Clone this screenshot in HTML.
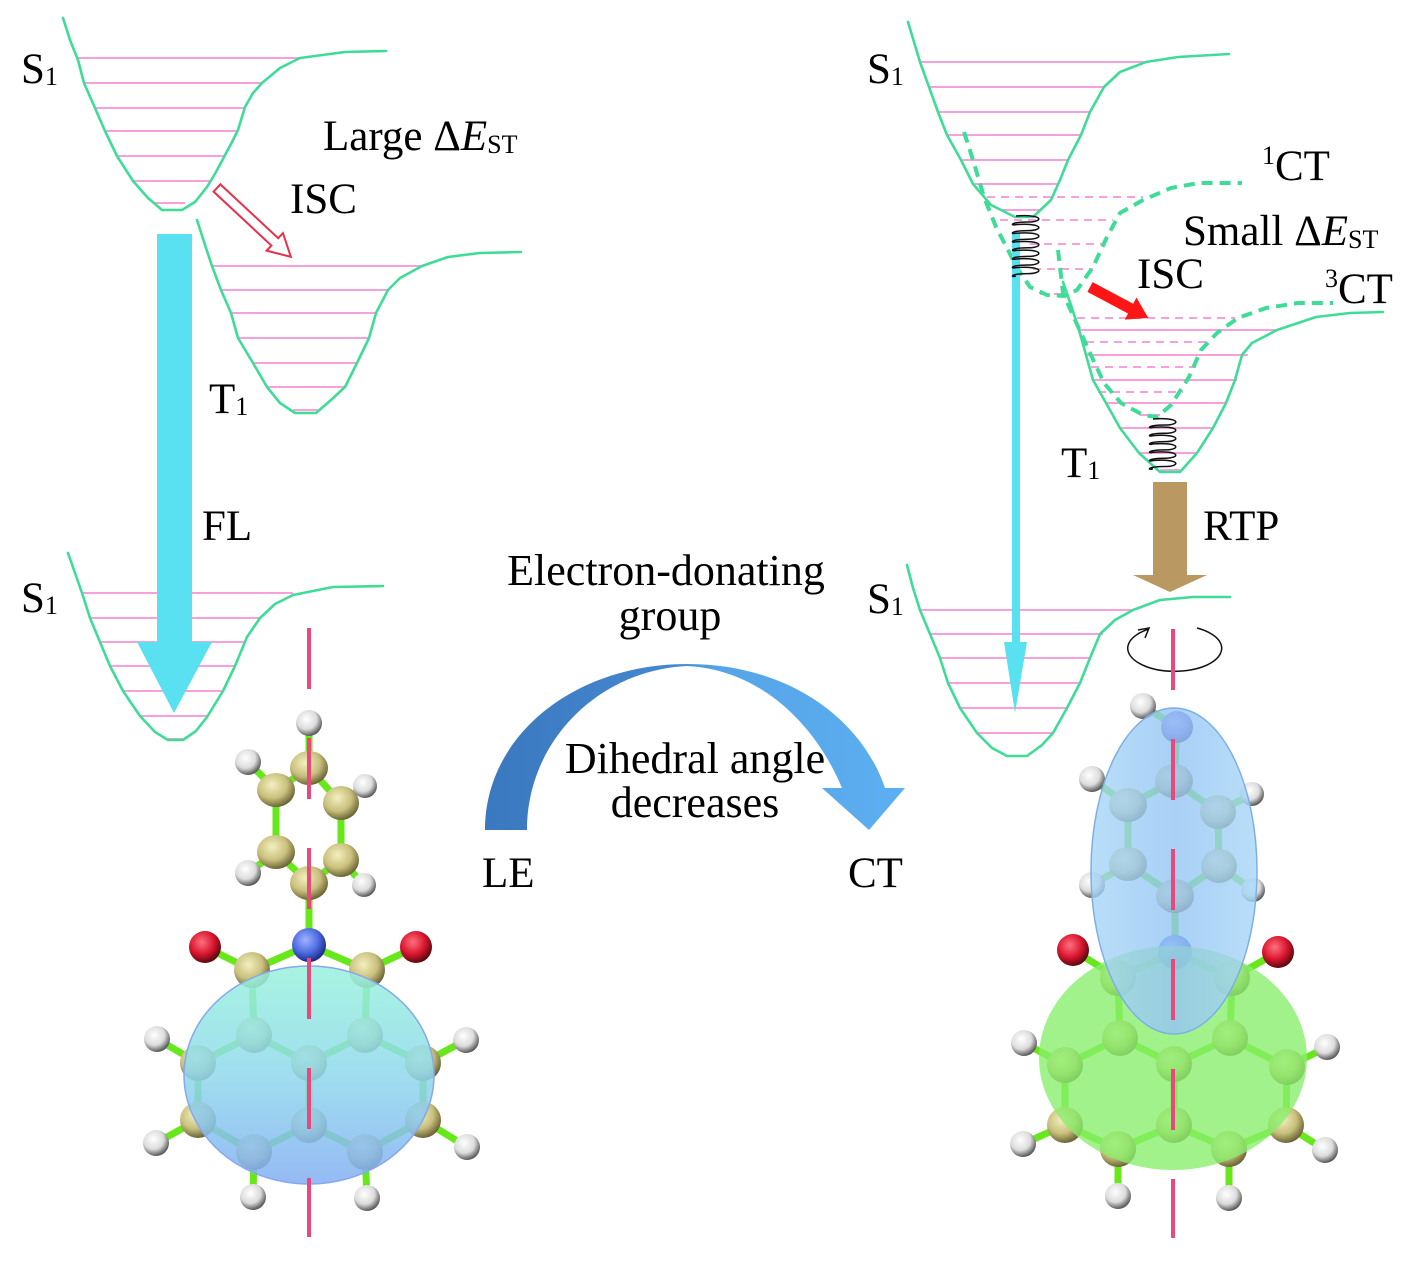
<!DOCTYPE html>
<html><head><meta charset="utf-8"><style>
html,body{margin:0;padding:0;background:#fff;}
svg{display:block;}
text{font-family:"Liberation Serif",serif;fill:#000;}
</style></head><body>
<svg width="1414" height="1264" viewBox="0 0 1414 1264" xmlns="http://www.w3.org/2000/svg">
<defs>
<radialGradient id="gC" cx="40%" cy="35%" r="65%"><stop offset="0" stop-color="#f4efc0"/><stop offset="0.6" stop-color="#c9c07c"/><stop offset="1" stop-color="#6e6638"/></radialGradient>
<radialGradient id="gH" cx="40%" cy="35%" r="65%"><stop offset="0" stop-color="#ffffff"/><stop offset="0.6" stop-color="#dcdcdc"/><stop offset="1" stop-color="#5a5a5a"/></radialGradient>
<radialGradient id="gO" cx="40%" cy="35%" r="65%"><stop offset="0" stop-color="#ff7080"/><stop offset="0.6" stop-color="#d8142c"/><stop offset="1" stop-color="#5a0a10"/></radialGradient>
<radialGradient id="gN" cx="40%" cy="35%" r="65%"><stop offset="0" stop-color="#a0b4ff"/><stop offset="0.6" stop-color="#4c6ae0"/><stop offset="1" stop-color="#1c2c88"/></radialGradient>
<radialGradient id="gNp" cx="40%" cy="35%" r="65%"><stop offset="0" stop-color="#b0a0f8"/><stop offset="0.6" stop-color="#7c68e4"/><stop offset="1" stop-color="#3a2c90"/></radialGradient>
<linearGradient id="gArc" x1="485" y1="0" x2="905" y2="0" gradientUnits="userSpaceOnUse"><stop offset="0" stop-color="#3a78bf"/><stop offset="0.45" stop-color="#4588cf"/><stop offset="0.55" stop-color="#55a4e8"/><stop offset="1" stop-color="#5caff0"/></linearGradient>
<linearGradient id="gEl" x1="0" y1="0" x2="0" y2="1"><stop offset="0" stop-color="#98f2dc"/><stop offset="0.5" stop-color="#8fd8ec"/><stop offset="1" stop-color="#82aef2"/></linearGradient>
<linearGradient id="gBl" x1="0" y1="0" x2="1" y2="0"><stop offset="0" stop-color="#a6d6f6"/><stop offset="0.5" stop-color="#94c4f4"/><stop offset="1" stop-color="#a6d6f6"/></linearGradient>
</defs>

<!-- ===== Top-left S1 ===== -->
<g stroke="#f7a0dc" stroke-width="2">
<line x1="77" y1="58" x2="300" y2="58"/><line x1="84" y1="83" x2="262" y2="83"/><line x1="95" y1="108" x2="245" y2="108"/><line x1="105" y1="131" x2="238" y2="131"/><line x1="117" y1="156" x2="224" y2="156"/><line x1="133" y1="181" x2="210" y2="181"/><line x1="155" y1="203" x2="185" y2="203"/>
<line x1="212" y1="266" x2="422" y2="266"/><line x1="221" y1="290" x2="388" y2="290"/><line x1="231" y1="313" x2="376" y2="313"/><line x1="238" y1="338" x2="369" y2="338"/><line x1="253" y1="363" x2="357" y2="363"/><line x1="267" y1="387" x2="345" y2="387"/><line x1="293" y1="410" x2="318" y2="410"/>
<line x1="82" y1="593" x2="293" y2="593"/><line x1="90" y1="618" x2="260" y2="618"/><line x1="100" y1="642" x2="244" y2="642"/><line x1="110" y1="666" x2="235" y2="666"/><line x1="123" y1="691" x2="223" y2="691"/><line x1="140" y1="716" x2="207" y2="716"/><line x1="168" y1="739" x2="183" y2="739"/>
</g>
<g fill="none" stroke="#3fdc98" stroke-width="2.6" stroke-linejoin="round" stroke-linecap="round">
<polyline points="63,18 70,40 78,60 84,83 95,108 105,131 117,156 133,181 148,198 162,210 182,210 195,202 207,187 216,172 224,157 232,142 238,130 245,107 253,93 262,83 280,68 300,58 345,52 386,51"/>
<polyline points="197,220 205,245 212,266 221,290 231,313 238,338 253,363 267,387 280,403 295,413 316,413 331,400 345,387 357,363 369,338 376,313 388,290 400,278 422,266 448,257 480,253 521,252"/>
<polyline points="68,553 75,573 82,593 90,618 100,642 110,666 123,691 140,716 155,732 168,740 183,740 196,731 207,717 223,691 235,666 247,637 260,618 275,604 293,595 333,587 383,586"/>
</g>

<!-- hollow ISC arrow -->
<polygon points="0,-5 79,-5 79,-12 101,0 79,12 79,5 0,5" transform="translate(217,188) rotate(43)" fill="#fff" stroke="#e8304a" stroke-width="2"/>

<!-- FL arrow -->
<polygon points="157,234 192,234 192,642 212,642 174,713 137,642 157,642" fill="#59e1f1"/>

<!-- ===== Top-right ===== -->
<g stroke="#f7a0dc" stroke-width="2">
<line x1="920" y1="62" x2="1146" y2="62"/><line x1="929" y1="87" x2="1104" y2="87"/><line x1="938" y1="112" x2="1090" y2="112"/><line x1="947" y1="135" x2="1081" y2="135"/><line x1="961" y1="160" x2="1068" y2="160"/><line x1="973" y1="184" x2="1057" y2="184"/><line x1="1000" y1="210" x2="1040" y2="210"/>
<line x1="1079" y1="330" x2="1277" y2="330"/><line x1="1086" y1="355" x2="1248" y2="355"/><line x1="1093" y1="380" x2="1237" y2="380"/><line x1="1106" y1="403" x2="1226" y2="403"/><line x1="1120" y1="428" x2="1213" y2="428"/><line x1="1139" y1="453" x2="1197" y2="453"/><line x1="1160" y1="470" x2="1180" y2="470"/>
<line x1="920" y1="610" x2="1133" y2="610"/><line x1="930" y1="634" x2="1103" y2="634"/><line x1="940" y1="658" x2="1090" y2="658"/><line x1="948" y1="683" x2="1080" y2="683"/><line x1="960" y1="708" x2="1067" y2="708"/><line x1="977" y1="733" x2="1053" y2="733"/><line x1="1007" y1="756" x2="1027" y2="756"/>
</g>
<g stroke="#f7a0dc" stroke-width="2" stroke-dasharray="8 6">
<line x1="987" y1="197" x2="1143" y2="197"/><line x1="1000" y1="220" x2="1113" y2="220"/><line x1="1030" y1="244" x2="1103" y2="244"/><line x1="1033" y1="269" x2="1093" y2="269"/><line x1="1040" y1="294" x2="1067" y2="294"/>
<line x1="1077" y1="318" x2="1235" y2="318"/><line x1="1086" y1="342" x2="1210" y2="342"/><line x1="1091" y1="367" x2="1196" y2="367"/><line x1="1098" y1="392" x2="1183" y2="392"/><line x1="1140" y1="415" x2="1160" y2="415"/>
</g>
<g fill="none" stroke="#3fdc98" stroke-width="2.6" stroke-linejoin="round" stroke-linecap="round">
<polyline points="908,22 914,42 920,62 929,87 938,112 947,135 961,160 973,184 991,205 1015,217 1033,217 1051,200 1060,180 1068,160 1081,135 1090,112 1104,87 1120,72 1146,62 1178,57 1229,54"/>
<polyline points="1063,282 1071,305 1079,330 1086,355 1093,380 1106,403 1120,428 1139,453 1160,472 1180,472 1197,453 1213,428 1226,403 1235,380 1242,355 1252,343 1277,330 1316,317 1350,313 1383,312"/>
<polyline points="907,565 913,588 920,610 930,634 940,658 948,683 960,708 977,733 992,748 1007,756 1027,756 1042,745 1053,733 1067,708 1080,683 1090,658 1100,634 1115,620 1133,610 1160,600 1193,597 1230,597"/>
</g>
<g fill="none" stroke="#3fdc98" stroke-width="4" stroke-dasharray="11 7" stroke-linejoin="round">
<polyline points="964,132 973,160 984,197 996,227 1007,248 1017,268 1030,287 1047,295 1065,296 1077,290 1093,267 1107,237 1120,213 1143,200 1171,188 1199,183 1242,183"/>
<polyline points="1058,250 1063,293 1075,320 1090,353 1104,383 1121,403 1143,415 1157,417 1171,405 1189,377 1201,350 1217,333 1238,318 1266,308 1298,303 1333,303"/>
</g>

<!-- thin blue arrow -->
<polygon points="1012,233 1020,233 1020,642 1027,642 1015,713 1004,642 1012,642" fill="#59e1f1"/>

<!-- springs -->
<path d="M1016,216 c28,-2 28,6 12,6 c-18,0 -18,4 -12,2.6 c28,-2 28,6 12,6 c-18,0 -18,4 -12,2.6 c28,-2 28,6 12,6 c-18,0 -18,4 -12,2.6 c28,-2 28,6 12,6 c-18,0 -18,4 -12,2.6 c28,-2 28,6 12,6 c-18,0 -18,4 -12,2.6 c28,-2 28,6 12,6 c-18,0 -18,4 -12,2.6 c28,-2 28,6 12,6 c-18,0 -18,4 -12,2.6" fill="none" stroke="#111" stroke-width="1.5"/>
<path d="M1153,419 c28,-2 28,6 12,6 c-18,0 -18,4 -12,2.3 c28,-2 28,6 12,6 c-18,0 -18,4 -12,2.3 c28,-2 28,6 12,6 c-18,0 -18,4 -12,2.3 c28,-2 28,6 12,6 c-18,0 -18,4 -12,2.3 c28,-2 28,6 12,6 c-18,0 -18,4 -12,2.3 c28,-2 28,6 12,6 c-18,0 -18,4 -12,2.3" fill="none" stroke="#111" stroke-width="1.5"/>

<!-- red ISC arrow -->
<polygon points="0,-5.5 46,-5.5 46,-12.5 66,0 46,12.5 46,5.5 0,5.5" transform="translate(1090,287) rotate(28)" fill="#ff1515"/>

<!-- RTP arrow -->
<polygon points="1153,482 1187,482 1187,575 1207,575 1170,592 1133,575 1153,575" fill="#b99862"/>

<!-- rotation arrow -->
<path d="M1197,628 A47,23 0 1 1 1149,629" fill="none" stroke="#111" stroke-width="1.5"/>
<polyline points="1138,630 1149,628 1145,638" fill="none" stroke="#111" stroke-width="1.5"/>

<!-- center curved arrow -->
<path d="M485,830 C485,735 575,664 687,664 C790,664 862,720 885,788 L905,788 L869,830 L822,788 L842,788 C818,730 765,670 687,666 C600,670 527,740 527,830 Z" fill="url(#gArc)"/>

<!-- ===== Left molecule ===== -->
<g stroke="#66e81a" stroke-width="7" stroke-linecap="round">
<line x1="309" y1="723" x2="309" y2="768"/><line x1="309" y1="768" x2="276" y2="790"/><line x1="309" y1="768" x2="341" y2="803"/><line x1="276" y1="790" x2="276" y2="852"/><line x1="341" y1="803" x2="341" y2="860"/><line x1="276" y1="852" x2="309" y2="883"/><line x1="341" y1="860" x2="309" y2="883"/><line x1="276" y1="790" x2="248" y2="762"/><line x1="341" y1="803" x2="365" y2="786"/><line x1="276" y1="852" x2="248" y2="873"/><line x1="341" y1="860" x2="364" y2="885"/><line x1="309" y1="883" x2="309" y2="945"/>
<line x1="309" y1="945" x2="252" y2="970"/><line x1="309" y1="945" x2="367" y2="970"/><line x1="252" y1="970" x2="205" y2="947"/><line x1="367" y1="970" x2="416" y2="947"/><line x1="252" y1="970" x2="254" y2="1035"/><line x1="367" y1="970" x2="365" y2="1035"/><line x1="254" y1="1035" x2="309" y2="1063"/><line x1="365" y1="1035" x2="309" y2="1063"/><line x1="254" y1="1035" x2="198" y2="1063"/><line x1="365" y1="1035" x2="423" y2="1063"/><line x1="198" y1="1063" x2="198" y2="1120"/><line x1="423" y1="1063" x2="423" y2="1120"/><line x1="198" y1="1120" x2="254" y2="1152"/><line x1="423" y1="1120" x2="365" y2="1152"/><line x1="254" y1="1152" x2="309" y2="1125"/><line x1="365" y1="1152" x2="309" y2="1125"/><line x1="309" y1="1063" x2="309" y2="1125"/>
<line x1="198" y1="1063" x2="157" y2="1039"/><line x1="423" y1="1063" x2="466" y2="1040"/><line x1="198" y1="1120" x2="156" y2="1143"/><line x1="423" y1="1120" x2="467" y2="1147"/><line x1="254" y1="1152" x2="253" y2="1197"/><line x1="365" y1="1152" x2="367" y2="1198"/>
</g>
<g fill="url(#gH)">
<circle cx="309" cy="723" r="13"/><circle cx="248" cy="762" r="13"/><circle cx="365" cy="786" r="12"/><circle cx="248" cy="873" r="13"/><circle cx="364" cy="885" r="12"/><circle cx="157" cy="1039" r="13"/><circle cx="466" cy="1040" r="13"/><circle cx="156" cy="1143" r="13"/><circle cx="467" cy="1147" r="13"/><circle cx="253" cy="1197" r="13"/><circle cx="367" cy="1198" r="13"/>
</g>
<g fill="url(#gC)">
<ellipse cx="276" cy="790" rx="19" ry="17"/><ellipse cx="341" cy="803" rx="18" ry="17"/><ellipse cx="309" cy="768" rx="19" ry="17"/><ellipse cx="276" cy="852" rx="19" ry="17"/><ellipse cx="341" cy="860" rx="18" ry="17"/><ellipse cx="309" cy="883" rx="19" ry="17"/>
<circle cx="252" cy="970" r="18"/><circle cx="367" cy="970" r="18"/>
<circle cx="254" cy="1035" r="18"/><circle cx="365" cy="1035" r="18"/><circle cx="309" cy="1063" r="18"/><circle cx="198" cy="1063" r="18"/><circle cx="423" cy="1063" r="18"/><circle cx="198" cy="1120" r="18"/><circle cx="423" cy="1120" r="18"/><circle cx="309" cy="1125" r="18"/><circle cx="254" cy="1152" r="18"/><circle cx="365" cy="1152" r="18"/>
</g>
<circle cx="205" cy="947" r="16" fill="url(#gO)"/><circle cx="416" cy="947" r="16" fill="url(#gO)"/>
<circle cx="309" cy="945" r="17" fill="url(#gN)"/>
<ellipse cx="309" cy="1075" rx="125" ry="109" fill="url(#gEl)" fill-opacity="0.85" stroke="#86a8ee" stroke-width="1.5"/>

<!-- ===== Right molecule ===== -->
<g stroke="#66e81a" stroke-width="7" stroke-linecap="round">
<line x1="1143" y1="706" x2="1177" y2="727"/><line x1="1177" y1="727" x2="1174" y2="781"/><line x1="1174" y1="781" x2="1128" y2="805"/><line x1="1174" y1="781" x2="1218" y2="812"/><line x1="1128" y1="805" x2="1128" y2="864"/><line x1="1218" y1="812" x2="1219" y2="866"/><line x1="1128" y1="864" x2="1175" y2="896"/><line x1="1219" y1="866" x2="1175" y2="896"/><line x1="1128" y1="805" x2="1092" y2="779"/><line x1="1218" y1="812" x2="1252" y2="794"/><line x1="1128" y1="864" x2="1092" y2="885"/><line x1="1219" y1="866" x2="1253" y2="890"/><line x1="1175" y1="896" x2="1175" y2="952"/>
<line x1="1175" y1="952" x2="1118" y2="978"/><line x1="1175" y1="952" x2="1232" y2="978"/><line x1="1118" y1="978" x2="1073" y2="950"/><line x1="1232" y1="978" x2="1278" y2="952"/><line x1="1118" y1="978" x2="1120" y2="1038"/><line x1="1232" y1="978" x2="1230" y2="1038"/><line x1="1120" y1="1038" x2="1174" y2="1064"/><line x1="1230" y1="1038" x2="1174" y2="1064"/><line x1="1120" y1="1038" x2="1065" y2="1065"/><line x1="1230" y1="1038" x2="1287" y2="1067"/><line x1="1065" y1="1065" x2="1065" y2="1125"/><line x1="1287" y1="1067" x2="1286" y2="1125"/><line x1="1065" y1="1125" x2="1118" y2="1149"/><line x1="1286" y1="1125" x2="1229" y2="1149"/><line x1="1118" y1="1149" x2="1174" y2="1125"/><line x1="1229" y1="1149" x2="1174" y2="1125"/><line x1="1174" y1="1064" x2="1174" y2="1125"/>
<line x1="1065" y1="1065" x2="1024" y2="1043"/><line x1="1287" y1="1067" x2="1327" y2="1047"/><line x1="1065" y1="1125" x2="1023" y2="1144"/><line x1="1286" y1="1125" x2="1325" y2="1150"/><line x1="1118" y1="1149" x2="1118" y2="1196"/><line x1="1229" y1="1149" x2="1229" y2="1198"/>
</g>
<g fill="url(#gH)">
<circle cx="1143" cy="706" r="13"/><circle cx="1092" cy="779" r="13"/><circle cx="1252" cy="794" r="12"/><circle cx="1092" cy="885" r="13"/><circle cx="1253" cy="890" r="12"/><circle cx="1024" cy="1043" r="13"/><circle cx="1327" cy="1047" r="13"/><circle cx="1023" cy="1144" r="13"/><circle cx="1325" cy="1150" r="13"/><circle cx="1118" cy="1196" r="13"/><circle cx="1229" cy="1198" r="13"/>
</g>
<g fill="url(#gC)">
<ellipse cx="1174" cy="781" rx="19" ry="17"/><ellipse cx="1128" cy="805" rx="19" ry="17"/><ellipse cx="1218" cy="812" rx="18" ry="17"/><ellipse cx="1128" cy="864" rx="19" ry="17"/><ellipse cx="1219" cy="866" rx="18" ry="17"/><ellipse cx="1175" cy="896" rx="19" ry="17"/>
<circle cx="1118" cy="978" r="18"/><circle cx="1232" cy="978" r="18"/>
<circle cx="1120" cy="1038" r="18"/><circle cx="1230" cy="1038" r="18"/><circle cx="1174" cy="1064" r="18"/><circle cx="1065" cy="1065" r="18"/><circle cx="1287" cy="1067" r="18"/><circle cx="1065" cy="1125" r="18"/><circle cx="1286" cy="1125" r="18"/><circle cx="1174" cy="1125" r="18"/><circle cx="1118" cy="1149" r="18"/><circle cx="1229" cy="1149" r="18"/>
</g>
<circle cx="1073" cy="950" r="16" fill="url(#gO)"/><circle cx="1278" cy="952" r="16" fill="url(#gO)"/>
<circle cx="1175" cy="952" r="17" fill="url(#gN)"/>
<circle cx="1177" cy="727" r="16" fill="url(#gNp)"/>
<ellipse cx="1173" cy="1058" rx="134" ry="112" fill="#88ee6c" fill-opacity="0.78"/>
<ellipse cx="1174" cy="871" rx="83" ry="163" fill="url(#gBl)" fill-opacity="0.8" stroke="#7eaee8" stroke-width="1.5"/>

<!-- red dashed axes -->
<line x1="309" y1="628" x2="309" y2="1237" stroke="#e8487c" stroke-width="4" stroke-dasharray="61 49"/>
<line x1="1173" y1="629" x2="1173" y2="1238" stroke="#e8487c" stroke-width="4" stroke-dasharray="61 49"/>

<!-- ===== Text ===== -->
<g font-size="43">
<text x="21" y="83">S<tspan font-size="26" dy="2">1</tspan></text>
<text x="323" y="150">Large Δ<tspan font-style="italic">E</tspan><tspan font-size="26" dy="3">ST</tspan></text>
<text x="290" y="213">ISC</text>
<text x="209" y="413">T<tspan font-size="26" dy="2">1</tspan></text>
<text x="202" y="540">FL</text>
<text x="21" y="612">S<tspan font-size="26" dy="2">1</tspan></text>

<text x="666" y="585" font-size="44" text-anchor="middle">Electron-donating</text>
<text x="670" y="630" font-size="44" text-anchor="middle">group</text>
<text x="695" y="773" font-size="44" text-anchor="middle">Dihedral angle</text>
<text x="695" y="817" font-size="44" text-anchor="middle">decreases</text>
<text x="482" y="887">LE</text>
<text x="848" y="887">CT</text>

<text x="867" y="83">S<tspan font-size="26" dy="2">1</tspan></text>
<text x="1262" y="180"><tspan font-size="26" dy="-16">1</tspan><tspan dy="16">CT</tspan></text>
<text x="1183" y="245">Small Δ<tspan font-style="italic">E</tspan><tspan font-size="26" dy="3">ST</tspan></text>
<text x="1137" y="288">ISC</text>
<text x="1325" y="303"><tspan font-size="26" dy="-16">3</tspan><tspan dy="16">CT</tspan></text>
<text x="1061" y="477">T<tspan font-size="26" dy="2">1</tspan></text>
<text x="1203" y="540">RTP</text>
<text x="867" y="613">S<tspan font-size="26" dy="2">1</tspan></text>
</g>
</svg>
</body></html>
